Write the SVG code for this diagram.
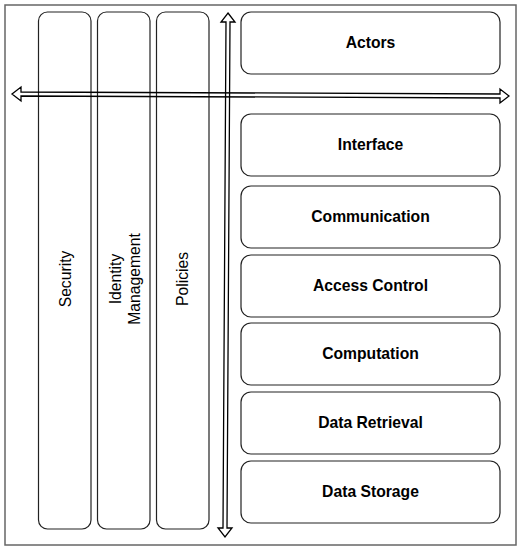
<svg xmlns="http://www.w3.org/2000/svg" width="521" height="550" viewBox="0 0 521 550">
<style>
.box{fill:#fff;stroke:#222;stroke-width:1.2}
.lbl{font-family:"Liberation Sans",Arial,sans-serif;font-size:15.7px;font-weight:bold;fill:#000;text-anchor:middle;dominant-baseline:central}
.vl{font-family:"Liberation Sans",Arial,sans-serif;font-size:15.7px;fill:#000;text-anchor:middle;dominant-baseline:central}
.arr{fill:none;stroke:#000;stroke-width:1.3;stroke-linejoin:miter}
</style>
<rect x="5" y="5" width="511" height="540" fill="#fff" stroke="#666" stroke-width="1.5"/>
<g id="security"><rect class="box" x="38.5" y="12" width="52.5" height="517" rx="9"/><text class="vl" transform="translate(65,279) rotate(-90)">Security</text></g>
<g id="identity"><rect class="box" x="97.5" y="12" width="52.5" height="517" rx="9"/><text class="vl" transform="translate(124,279) rotate(-90)"><tspan x="0" y="-9.5">Identity</tspan><tspan x="0" y="9.5">Management</tspan></text></g>
<g id="policies"><rect class="box" x="156.5" y="12" width="52.5" height="517" rx="9"/><text class="vl" transform="translate(182.5,279) rotate(-90)">Policies</text></g>
<g id="actors"><rect class="box" x="241" y="12" width="259" height="62" rx="10"/><text class="lbl" x="370.5" y="42.5">Actors</text></g>
<g id="interface"><rect class="box" x="241" y="114" width="259" height="62" rx="10"/><text class="lbl" x="370.5" y="144.5">Interface</text></g>
<g id="communication"><rect class="box" x="241" y="186" width="259" height="62" rx="10"/><text class="lbl" x="370.5" y="216.5">Communication</text></g>
<g id="access"><rect class="box" x="241" y="255" width="259" height="62" rx="10"/><text class="lbl" x="370.5" y="285.5">Access Control</text></g>
<g id="computation"><rect class="box" x="241" y="323" width="259" height="62" rx="10"/><text class="lbl" x="370.5" y="353.5">Computation</text></g>
<g id="retrieval"><rect class="box" x="241" y="392" width="259" height="62" rx="10"/><text class="lbl" x="370.5" y="422.5">Data Retrieval</text></g>
<g id="storage"><rect class="box" x="241" y="461" width="259" height="62" rx="10"/><text class="lbl" x="370.5" y="491.5">Data Storage</text></g>
<g id="connectors">
<polygon class="arr" points="12,94 21,87 21,92 500,94 500,89 509,96 500,103 500,98 21,96 21,101"/>
<polygon class="arr" points="228,13 235,22 230,22 227,528 232,528 225,537 218,528 223,528 226,22 221,22"/>
</g>
</svg>
